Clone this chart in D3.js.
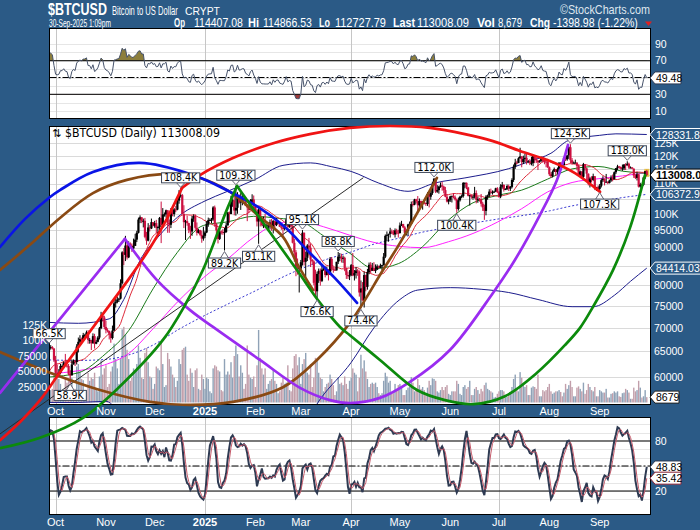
<!DOCTYPE html>
<html>
<head>
<meta charset="utf-8">
<script src="https://cdn.jsdelivr.net/npm/d3@7/dist/d3.min.js"></script>
<style>
  html, body { margin: 0; padding: 0; background: #2b5a86; }
  svg { display: block; }
</style>
</head>
<body>
<svg id="chart" width="700" height="530"></svg>
<script>
// prices in thousands of USD, one bar per calendar day starting at firstBar
const firstBar = '2024-09-27';
const closes = [
  65.8,65.9,65.6,63.3,
  60.8,60.6,60.8,62.1,62.1,62.8,62.2,62.1,60.6,60.3,62.4,63.2,62.9,66.0,67.0,67.6,67.4,68.4,68.4,69.0,67.4,67.4,66.7,68.2,66.6,67.0,67.9,69.9,72.7,72.3,70.2,
  69.5,69.3,68.7,67.8,69.4,75.6,75.9,76.5,76.7,80.5,88.7,88.0,90.6,87.3,91.1,90.6,89.8,90.5,92.3,94.3,98.3,99.0,97.8,97.9,93.1,92.0,95.9,95.6,97.5,96.4,
  97.2,95.8,96.0,98.8,96.6,99.9,99.9,101.2,97.3,96.7,101.2,100.0,101.5,101.4,104.3,106.0,106.1,100.0,97.5,97.8,97.2,95.1,94.7,98.6,99.4,95.8,94.3,95.1,93.7,92.6,93.4,
  94.4,96.9,98.1,98.2,98.3,102.1,96.9,95.0,92.5,94.7,94.6,94.5,94.5,96.5,100.5,100.0,104.1,104.4,101.1,102.0,106.2,103.7,104.0,104.8,104.7,102.6,102.1,101.3,103.7,104.7,102.4,
  100.7,97.7,101.4,97.9,96.6,96.6,96.5,96.5,96.5,97.4,95.8,97.9,96.6,97.5,97.6,96.1,95.8,95.5,96.6,98.3,96.1,96.6,96.3,91.4,88.7,84.7,84.4,84.4,
  86.0,94.3,86.1,87.2,90.6,90.0,86.7,86.2,80.6,78.5,82.9,83.7,81.1,84.0,84.3,82.6,84.1,82.7,86.9,84.2,84.0,83.8,86.1,87.5,87.5,86.9,87.2,84.4,82.6,82.3,82.5,
  85.2,82.5,83.1,83.8,83.5,78.2,79.2,76.3,82.6,79.6,83.4,85.3,83.7,84.5,83.7,84.0,84.9,84.5,85.1,85.2,87.5,93.4,93.7,94.0,94.7,94.6,93.8,95.0,94.3,94.2,
  96.5,96.9,95.9,94.3,94.8,96.8,97.0,103.2,103.0,104.7,104.1,102.8,104.2,103.5,103.7,103.5,103.2,106.5,105.6,106.8,109.7,111.7,107.3,107.8,109.0,109.4,109.0,107.8,105.6,104.0,104.6,
  105.7,105.9,105.4,104.7,101.6,104.4,105.6,105.8,110.3,110.3,108.7,105.9,106.1,105.5,105.6,106.8,104.6,104.9,104.7,103.3,102.1,101.0,105.6,106.0,107.3,107.0,107.1,107.3,108.4,107.1,
  105.7,108.9,109.6,108.0,108.2,109.2,108.3,108.9,111.3,116.0,117.5,117.4,119.1,119.8,117.7,118.8,119.3,117.9,118.0,117.3,117.4,120.0,118.8,118.3,117.6,118.0,119.5,118.1,117.9,117.8,115.8,
  113.3,112.6,114.2,115.1,114.1,115.0,117.5,116.7,116.5,119.3,118.7,120.2,123.3,118.4,117.4,117.5,117.5,116.3,112.9,114.3,112.4,116.9,115.4,113.5,110.1,111.8,111.3,112.6,108.4,108.8,108.2,
  109.3,111.2,111.7,110.7,110.7,110.2,111.1,112.1,111.5,114.0,115.5,116.1,115.9,115.3,115.4,116.8,116.5,117.1,115.7,115.7,115.3,112.8,112.0,113.3,109.0,109.7,109.6,112.2,114.4,113.008
];
const highs = [
  66.5,66.3,66.1,65.7,
  64.1,62.4,61.5,62.5,62.4,63.0,64.5,63.2,62.5,61.3,63.4,63.4,63.3,66.5,67.9,68.4,67.9,68.9,68.7,69.4,69.5,67.8,67.4,68.8,68.7,67.4,68.2,70.2,73.6,72.9,72.7,
  71.6,69.9,69.4,69.0,70.5,76.4,76.9,77.2,76.9,81.5,89.0,89.9,93.4,91.8,91.8,91.5,91.2,92.6,94.0,94.9,98.9,99.6,98.9,98.6,98.8,94.6,97.2,96.6,98.6,97.5,
  97.9,98.2,96.4,99.1,104.0,101.9,100.5,101.4,101.2,98.3,101.9,102.5,101.9,102.6,105.2,107.8,108.4,106.5,102.8,98.2,99.5,97.3,96.4,99.4,99.9,99.9,97.4,95.4,95.2,94.9,96.1,
  94.9,97.8,98.9,98.7,98.8,102.5,102.7,97.2,95.3,95.8,95.0,95.4,95.8,97.3,100.7,100.8,105.9,104.9,106.3,109.3,107.1,106.3,106.8,107.1,105.3,105.5,103.2,103.7,104.8,106.4,106.0,
  102.8,101.5,102.5,101.7,99.0,99.2,100.1,96.9,97.3,98.3,98.5,98.1,97.9,98.8,97.9,97.7,97.0,96.7,96.9,98.7,99.5,96.9,96.5,96.5,92.5,89.3,87.0,85.0,
  86.6,95.1,94.4,88.9,91.0,92.8,91.2,86.8,86.5,84.0,83.5,84.3,84.3,85.2,84.7,85.0,84.8,84.1,87.4,87.4,84.8,84.5,86.1,88.8,88.5,88.3,87.8,87.5,84.6,83.5,83.9,
  85.5,88.5,83.9,84.7,84.2,83.8,81.2,80.8,83.5,82.7,84.2,85.9,86.0,85.8,86.0,85.4,85.4,85.1,85.6,85.3,88.5,93.8,94.7,94.0,95.8,95.3,95.1,95.6,95.5,95.2,
  97.4,97.9,97.0,96.3,95.2,97.0,97.7,104.0,104.2,104.9,104.9,105.8,105.0,104.3,104.1,104.5,103.7,107.1,107.0,107.7,110.7,112.0,111.9,109.5,109.3,110.4,110.7,109.3,108.9,106.3,104.9,
  105.9,105.9,106.8,106.0,105.0,105.3,105.9,106.3,110.5,110.4,110.4,108.9,106.2,106.2,106.0,108.9,107.7,105.6,105.2,106.5,103.9,103.0,106.1,106.3,108.1,108.3,107.7,107.6,108.6,108.8,
  107.5,109.8,110.6,109.7,108.4,109.7,109.7,109.2,111.9,116.8,118.9,118.2,119.5,123.1,119.9,120.1,120.9,120.9,118.5,118.8,119.7,120.2,120.2,119.5,118.4,118.5,119.8,119.8,119.3,118.8,118.9,
  116.1,114.0,114.7,115.7,115.1,115.7,117.6,117.7,117.9,119.3,122.3,120.3,123.7,124.5,119.2,117.9,118.6,117.6,116.8,114.6,114.3,117.4,117.0,115.7,113.6,112.4,112.6,113.5,112.6,108.9,109.4,
  109.9,111.8,112.6,111.8,113.4,110.7,111.3,112.9,113.2,114.3,115.5,116.7,116.3,116.1,116.8,117.0,117.3,118.0,117.5,116.1,115.9,115.4,113.3,114.0,113.4,110.3,109.8,112.4,114.5,114.87
];
const lows = [
  64.8,65.4,65.4,62.9,
  60.2,59.9,59.9,60.5,61.6,61.9,62.1,61.8,60.3,58.9,60.4,62.4,62.1,62.4,64.8,66.7,66.7,67.1,68.0,68.1,66.6,66.6,65.3,66.6,65.6,66.5,66.9,67.5,69.7,71.4,69.7,
  68.8,69.0,67.5,66.8,67.5,69.3,74.6,75.6,75.9,76.5,80.2,85.2,86.3,86.7,87.1,90.1,88.8,89.4,90.9,91.6,94.1,97.2,97.2,95.9,92.7,90.8,91.8,94.7,95.4,96.2,
  95.8,94.2,93.6,94.7,91.3,95.9,99.2,98.9,94.3,94.3,95.7,99.3,99.2,100.6,101.2,103.3,105.3,100.0,95.7,92.2,96.4,94.2,92.5,93.4,97.6,95.2,93.5,94.1,93.3,91.4,92.0,
  92.8,94.2,96.1,97.8,97.2,97.9,96.1,92.5,91.2,92.2,93.8,93.7,89.2,94.3,96.5,97.3,100.0,102.3,99.6,99.5,100.1,103.3,101.3,102.8,104.1,102.5,97.8,100.3,101.3,103.3,101.6,
  100.3,96.2,91.1,96.2,96.2,95.7,95.7,95.7,94.7,95.3,94.9,94.1,95.2,96.3,97.1,96.0,95.2,93.4,95.0,96.4,94.9,95.8,95.2,91.2,86.1,82.3,82.7,78.2,
  83.7,85.1,85.1,82.0,86.3,87.8,84.7,85.3,80.0,77.5,76.6,80.6,79.9,80.8,83.7,82.0,82.5,81.2,82.6,83.7,83.2,83.7,83.8,85.5,86.3,85.9,85.8,83.6,81.6,81.6,81.3,
  82.4,82.3,81.2,81.7,82.4,77.2,74.4,76.2,74.6,78.5,78.9,82.8,83.1,83.7,83.6,83.1,83.9,84.3,84.4,83.9,85.1,87.1,91.8,91.7,92.9,93.9,93.6,92.9,93.8,92.9,
  94.1,96.3,95.7,94.1,93.5,93.5,95.8,97.0,102.4,102.8,103.4,100.8,101.5,102.6,101.4,103.1,102.6,102.6,102.1,104.6,106.2,109.3,106.8,106.9,106.6,108.6,107.6,106.7,105.4,103.7,103.1,
  103.9,103.7,105.0,104.3,100.4,101.1,104.0,105.1,105.3,108.4,108.1,105.7,102.7,104.9,104.6,105.0,103.4,103.6,104.0,102.4,101.0,98.2,99.6,104.6,105.5,106.6,106.3,106.9,107.2,106.8,
  105.3,105.1,108.3,107.3,107.8,107.8,107.5,107.5,108.4,110.6,115.2,116.9,117.3,118.9,115.8,117.0,117.5,116.8,117.3,116.6,116.5,116.2,117.3,117.4,114.8,117.5,117.9,117.5,116.9,115.8,115.5,
  112.7,112.0,112.2,114.1,112.7,113.4,114.3,115.9,116.3,116.5,118.1,118.2,118.9,117.2,116.8,117.2,117.3,114.7,112.7,112.4,112.0,111.7,114.6,110.8,109.4,108.7,110.4,110.9,107.8,107.5,108.1,
  107.3,108.7,110.6,109.4,110.2,109.8,110.1,110.6,110.8,111.6,113.4,114.8,115.3,114.9,114.5,114.8,114.8,116.4,115.2,115.5,115.2,112.0,111.6,111.1,108.7,108.6,109.1,109.3,111.6,112.73
];
// volume in thousands
const volumes = [
  38,20,22,45,
  55,42,38,30,16,18,40,32,36,48,40,20,22,58,62,50,38,36,18,20,48,35,40,38,48,22,18,42,68,45,55,
  60,25,30,50,58,95,70,55,30,70,118,122,110,85,70,35,40,55,50,62,92,72,40,38,80,88,65,42,40,22,
  30,58,55,52,98,62,25,28,80,70,58,45,40,25,35,70,62,85,88,90,45,35,55,48,25,52,55,22,20,45,38,
  22,40,38,18,15,55,60,58,52,50,20,18,70,45,50,45,65,40,75,92,78,42,60,48,22,30,92,45,40,38,42,
  25,60,117,72,55,45,55,22,30,35,38,52,35,30,15,18,32,42,30,32,60,20,18,55,75,78,60,73,
  30,62,70,80,48,45,62,25,40,72,69,48,40,38,18,25,30,32,45,38,28,12,18,40,30,32,28,42,30,22,35,
  40,55,48,45,18,40,77,55,68,50,38,25,30,32,30,32,25,15,12,15,35,48,42,32,35,14,15,30,22,28,
  30,25,12,12,20,24,26,41,32,18,20,38,28,22,25,20,12,24,35,28,39,38,35,18,16,20,25,20,25,28,14,
  12,18,18,18,35,30,14,12,25,28,22,25,35,12,12,22,25,20,14,22,18,28,32,22,20,18,16,8,9,14,
  18,20,20,18,8,9,14,14,25,38,45,20,18,49,40,28,25,28,12,12,24,26,25,22,45,10,10,20,18,20,25,
  30,18,14,16,18,18,20,17,10,16,30,22,28,35,25,10,10,24,26,22,18,32,14,20,30,25,20,18,25,10,10,
  20,18,16,16,22,8,8,14,15,18,16,18,10,9,15,16,22,20,16,6,6,24,18,20,35,24,8,10,20,8.679
];
// the 19 days before the first bar, only used to seed RSI, stochastics and SMA(20)
const leadCloses = [54.9,57.0,57.6,57.3,58.1,60.5,60.0,59.2,58.2,60.3,61.7,62.9,63.2,63.3,63.6,63.3,64.3,63.2,65.2];
const leadHighs  = [55.3,58.1,58.0,57.9,58.6,60.6,60.6,60.4,59.2,61.3,61.8,63.8,64.1,63.5,63.9,64.7,64.5,64.8,65.8];
const leadLows   = [53.7,54.6,56.4,55.6,57.0,57.6,59.5,58.8,57.5,57.6,59.2,61.6,62.4,62.8,62.4,62.7,62.7,62.9,62.7];

// overlays, [date, value in K]
const sma50 = [["2024-09-27",60.0],["2024-10-15",60.8],["2024-11-01",64.6],["2024-11-15",69.4],["2024-11-30",79.1],["2024-12-15",88.7],["2024-12-31",96.5],["2025-01-15",97.6],["2025-01-31",99.3],["2025-02-15",98.7],["2025-02-28",97.9],["2025-03-15",93.4],["2025-03-31",88.5],["2025-04-15",84.3],["2025-04-30",85.6],["2025-05-15",90.3],["2025-05-31",98.2],["2025-06-15",103.6],["2025-06-30",106.0],["2025-07-15",107.8],["2025-07-31",111.6],["2025-08-15",115.2],["2025-08-31",116.1],["2025-09-15",114.4],["2025-09-30",113.6]];
const sma100 = [["2024-09-27",60.6],["2024-10-15",61.2],["2024-10-31",62.3],["2024-11-15",64.6],["2024-11-30",69.8],["2024-12-15",75.9],["2024-12-31",81.9],["2025-01-15",86.9],["2025-01-31",93.0],["2025-02-15",97.1],["2025-02-28",97.8],["2025-03-15",96.1],["2025-03-31",93.6],["2025-04-15",91.5],["2025-04-30",90.4],["2025-05-15",90.0],["2025-05-31",91.7],["2025-06-15",94.1],["2025-06-30",97.5],["2025-07-15",101.7],["2025-07-31",107.2],["2025-08-15",110.4],["2025-08-31",111.7],["2025-09-15",112.7],["2025-09-30",113.9]];
const bbUpper = [["2024-09-27",71.2],["2024-10-15",71.0],["2024-11-03",72.0],["2024-11-12",76.5],["2024-11-22",86.5],["2024-12-03",93.0],["2024-12-15",99.0],["2025-01-01",104.2],["2025-01-14",107.2],["2025-02-01",111.5],["2025-02-18",116.5],["2025-03-07",117.4],["2025-03-20",116.0],["2025-04-01",114.3],["2025-04-18",110.2],["2025-05-06",107.4],["2025-05-23",110.3],["2025-06-10",112.0],["2025-07-07",115.3],["2025-07-20",118.0],["2025-08-02",121.0],["2025-08-13",126.0],["2025-09-01",128.0],["2025-09-11",128.6],["2025-09-30",128.33]];
const bbMiddle = [["2024-09-27",63.3],["2024-10-15",63.2],["2024-11-01",63.4],["2024-11-15",64.3],["2024-12-01",66.5],["2024-12-15",69.5],["2025-01-01",72.8],["2025-01-16",75.6],["2025-02-01",78.6],["2025-02-15",81.5],["2025-03-01",84.2],["2025-03-15",86.5],["2025-04-01",88.8],["2025-04-15",91.0],["2025-05-01",92.8],["2025-05-15",94.5],["2025-06-01",96.0],["2025-06-15",97.2],["2025-07-01",98.5],["2025-07-15",99.5],["2025-08-01",101.0],["2025-08-15",102.6],["2025-09-01",104.1],["2025-09-15",105.3],["2025-09-30",106.37]];
const bbLower = [["2024-09-27",55.4],["2024-10-15",55.4],["2024-11-01",55.6],["2024-11-12",52.0],["2024-12-01",40.0],["2025-01-01",41.4],["2025-02-01",45.7],["2025-03-01",51.0],["2025-03-13",56.0],["2025-04-01",62.8],["2025-04-15",70.0],["2025-05-01",76.5],["2025-05-12",78.8],["2025-06-01",79.4],["2025-06-20",79.0],["2025-07-07",78.2],["2025-07-25",76.5],["2025-08-15",74.8],["2025-08-28",74.8],["2025-09-10",77.5],["2025-09-20",81.0],["2025-09-30",84.41]];

// hand-drawn arcs, [days after first bar, price K]
const arcBlue = [[-30.2,90.2],[-14.8,98.5],[0.6,105.5],[6.7,107.8],[27.0,114.1],[55.9,117.4],[88.6,113.0],[111.4,107.2],[129.8,101.9],[145.2,96.0],[160.6,88.5],[176.0,81.8],[189.6,75.7]];
const arcBrownTop = [[-30.2,83.9],[-11.8,90.8],[6.7,98.8],[27.0,106.8],[47.9,111.3],[74.4,113.4],[92.9,112.0],[111.4,107.2],[129.8,99.1],[144.0,93.1],[153.2,85.2],[162.5,78.8]];
const arcBrownLow = [[-30.2,64.9],[0.6,60.8],[31.3,57.6],[62.1,55.5],[82.4,55.0],[113.2,55.5],[144.0,58.1],[164.9,63.3],[185.2,71.1],[205.6,83.9],[216.0,91.3],[238.8,112.0]];
const legPurple = [[-30.2,57.1],[46.7,92.5]];
const arcPurple = [[46.7,92.5],[66.4,81.3],[86.8,74.0],[100.9,70.2],[129.8,63.3],[154.5,58.0],[172.9,55.8],[185.2,55.3],[203.7,56.2],[222.2,59.1],[246.8,65.3],[273.3,78.1],[286.8,86.6],[302.2,99.7],[312.7,111.3],[319.5,124.2]];
const legRed = [[-30.2,49.2],[-17.9,52.1],[-5.6,55.8],[6.7,60.9],[31.3,72.2],[48.6,81.3],[62.1,89.9],[71.4,97.5],[81.8,108.5]];
const arcRed = [[81.8,108.5],[92.9,113.0],[113.2,119.2],[136.0,124.5],[160.6,128.5],[185.2,131.0],[209.9,131.8],[234.5,131.0],[256.0,128.5],[273.3,125.7],[289.9,121.9],[308.4,118.1],[323.8,113.7],[339.2,107.2]];
const lineBlack = [[-30.2,50.2],[193.3,112.0]];
const legGreen = [[-30.2,48.0],[-5.6,49.6],[20.9,52.8],[43.7,58.3],[70.1,67.4],[83.7,75.2],[94.7,83.9],[104.0,94.5],[110.1,102.2],[115.7,109.2]];
const arcGreen = [[115.7,109.2],[134.1,95.7],[152.6,83.9],[166.8,75.7],[179.1,70.2],[185.2,68.4],[203.7,63.3],[226.5,57.6],[243.7,55.8],[261.0,55.1],[280.7,56.5],[300.4,60.8],[317.6,66.3],[326.9,70.0],[334.8,74.7],[347.2,83.9],[357.6,95.7],[366.9,113.0]];

// swing highs / lows that carry a value label
const swingNotes = [["2024-09-27","high"],["2024-10-10","low"],["2024-12-17","high"],["2025-01-13","low"],["2025-01-20","high"],["2025-02-03","low"],["2025-03-02","high"],["2025-03-11","low"],["2025-03-24","high"],["2025-04-07","low"],["2025-05-22","high"],["2025-06-05","low"],["2025-08-14","high"],["2025-09-01","low"],["2025-09-18","high"]];

const monthStarts = ["2024-10-01","2024-11-01","2024-12-01","2025-01-01","2025-02-01","2025-03-01","2025-04-01","2025-05-01","2025-06-01","2025-07-01","2025-08-01","2025-09-01"];
const monthNames = ["Oct","Nov","Dec","2025","Feb","Mar","Apr","May","Jun","Jul","Aug","Sep"];
const quarterLines = ["2024-10-01","2025-01-01","2025-04-01","2025-07-01"];
const priceGrid = [60,65,70,75,80,85,90,95,100,105,110,115,120,125];
// 85000 and 105K sit fully under the value tags, so they get no label
const priceLabels = [60,65,70,75,80,90,95,100,110,115,120,125];
const volumeTicks = [25,50,75,100,125];
const rsiLabels = [10,30,70,90];
const stochLabels = [20,80];

const quote = [["Op","114407.08"],["Hi","114866.53"],["Lo","112727.79"],["Last","113008.09"],["Vol","8,679"],["Chg","-1398.98 (-1.22%)"]];
const overlayTags = [["128331.8",128.3318,"band"],["113008.09",113.00809,"price"],["106372.9",106.3729,"band"],["84414.03",84.41403,"band"]];
const volumeTag = ["8679", 8.679];
const rsiTag = ["49.48", 49.48];
const stochTagsRead = [["48.83", 48.83, "#2e3a52"], ["35.42", 35.42, "#8b2232"]];

// ---------------------------------------------------------------
const BG = '#2b5a86';
const DAY = 864e5;
const t0 = Date.parse(firstBar);
const dayDate = (d) => new Date(t0 + d * DAY);
const parse = (s) => new Date(Date.parse(s));

const n = closes.length;
const bars = d3.range(n).map((i) => ({
    date: dayDate(i),
    o: i === 0 ? leadCloses[leadCloses.length - 1] : closes[i - 1],
    h: highs[i], l: lows[i], c: closes[i], v: volumes[i]
}));

const L = 49.5, R = 650;
const pRsi = {t: 28, b: 118}, pMain = {t: 126, b: 404}, pSto = {t: 417, b: 514};

const x = d3.scaleUtc().domain([new Date(t0), parse('2025-10-01')]).range([49.1, 648.4]);
const yP = d3.scaleLog().domain([55.13, 131.8]).range([404, 126]);
const yV = d3.scaleLinear().domain([0, 125]).range([402.5, 325]);
const yR = d3.scaleLinear().domain([0, 100]).range([119.5, 35.5]);
const yS = d3.scaleLinear().domain([0, 100]).range([507.7, 424.3]);

// indicators
const allC = leadCloses.concat(closes);
const allH = leadHighs.concat(highs);
const allLo = leadLows.concat(lows);
const off = leadCloses.length;

function rsiWilder(c, p) {
    const out = c.map(() => null);
    let g = 0, lo = 0;
    for (let i = 1; i <= p; i++) {
        const d = c[i] - c[i - 1];
        if (d > 0) g += d; else lo -= d;
    }
    g /= p; lo /= p;
    out[p] = 100 - 100 / (1 + g / lo);
    for (let i = p + 1; i < c.length; i++) {
        const d = c[i] - c[i - 1];
        g = (g * (p - 1) + Math.max(d, 0)) / p;
        lo = (lo * (p - 1) + Math.max(-d, 0)) / p;
        out[i] = lo === 0 ? 100 : 100 - 100 / (1 + g / lo);
    }
    return out;
}
const rsiAll = rsiWilder(allC, 14);
const fastK = allC.map((c, i) => {
    if (i < 13) return null;
    const hh = d3.max(allH.slice(i - 13, i + 1));
    const ll = d3.min(allLo.slice(i - 13, i + 1));
    return 100 * (c - ll) / (hh - ll);
});
const avg3 = (a, i) => (i < 2 || a[i] == null || a[i - 1] == null || a[i - 2] == null) ? null : (a[i] + a[i - 1] + a[i - 2]) / 3;
const slowK = fastK.map((_, i) => avg3(fastK, i));
const slowD = slowK.map((_, i) => avg3(slowK, i));
const sma20All = allC.map((_, i) => i < 19 ? null : d3.mean(allC.slice(i - 19, i + 1)));

const series = (arr) => bars.map((b, i) => ({date: b.date, v: arr[i + off]}));
const rsi = series(rsiAll), stK = series(slowK), stD = series(slowD), sma20 = series(sma20All);

// ---------------------------------------------------------------
const svg = d3.select('#chart');
svg.append('rect').attr('width', 700).attr('height', 530).attr('fill', BG);

const defs = svg.append('defs');
const clip = (id, y0, y1) => defs.append('clipPath').attr('id', id)
    .append('rect').attr('x', L).attr('y', y0).attr('width', R - L).attr('height', y1 - y0);
clip('c-rsi', pRsi.t, pRsi.b);
clip('c-main', pMain.t, pMain.b);
clip('c-sto', pSto.t, pSto.b);
clip('c-rsi-hi', pRsi.t, yR(70));
clip('c-rsi-lo', yR(30), pRsi.b);

[pRsi, pMain, pSto].forEach((p) => {
    svg.append('rect').attr('x', L).attr('y', p.t).attr('width', R - L).attr('height', p.b - p.t).attr('fill', '#ffffff');
});

const hLine = (g, y, stroke, dash, w) => g.append('line')
    .attr('x1', L).attr('x2', R).attr('y1', y).attr('y2', y)
    .attr('stroke', stroke).attr('stroke-width', w || 1).attr('stroke-dasharray', dash || null);

// grids
const grid = svg.append('g').attr('shape-rendering', 'crispEdges');
d3.range(10, 100, 10).forEach((v) => hLine(grid, Math.round(yR(v)) + 0.5, '#e6e6e6'));
d3.range(10, 101, 10).forEach((v) => hLine(grid, Math.round(yS(v)) + 0.5, '#e6e6e6'));
priceGrid.forEach((v) => hLine(grid, Math.round(yP(v)) + 0.5, '#dadada'));
quarterLines.forEach((s) => {
    const xx = Math.round(x(parse(s))) + 0.5;
    [pRsi, pMain, pSto].forEach((p) => grid.append('line')
        .attr('x1', xx).attr('x2', xx).attr('y1', p.t).attr('y2', p.b).attr('stroke', '#c6c6c6'));
});

// RSI panel
const gR = svg.append('g').attr('clip-path', 'url(#c-rsi)');
const rsiArea = (base) => d3.area().defined((d) => d.v != null)
    .x((d) => x(d.date)).y0(yR(base)).y1((d) => yR(d.v));
gR.append('path').datum(rsi).attr('d', rsiArea(70)).attr('fill', '#8c7e3c').attr('clip-path', 'url(#c-rsi-hi)');
gR.append('path').datum(rsi).attr('d', rsiArea(30)).attr('fill', '#9c3a3a').attr('clip-path', 'url(#c-rsi-lo)');
hLine(gR, yR(70), '#000');
hLine(gR, yR(30), '#000');
hLine(gR, yR(50), '#000', '7,2,2,2');
gR.append('path').datum(rsi)
    .attr('d', d3.line().defined((d) => d.v != null).x((d) => x(d.date)).y((d) => yR(d.v)))
    .attr('fill', 'none').attr('stroke', '#46526a').attr('stroke-width', 1);

// main panel
const gM = svg.append('g').attr('clip-path', 'url(#c-main)');
gM.selectAll('rect.vol').data(bars).join('rect').attr('class', 'vol')
    .attr('x', (d) => x(d.date) - 0.7).attr('width', 1.4)
    .attr('y', (d) => yV(d.v)).attr('height', (d) => yV(0) - yV(d.v))
    .attr('fill', (d) => d.c >= d.o ? '#8fa2b7' : '#c29fab');

const sampled = (arr) => arr.map(([s, v]) => ({date: parse(s), v}));
const sLine = d3.line().x((d) => x(d.date)).y((d) => yP(d.v)).curve(d3.curveMonotoneX);
const overlay = (data, stroke, w, dash) => gM.append('path').datum(data).attr('d', sLine)
    .attr('fill', 'none').attr('stroke', stroke).attr('stroke-width', w).attr('stroke-dasharray', dash || null);
overlay(sampled(bbLower), '#1c1c8c', 1);
overlay(sampled(bbUpper), '#1c1c8c', 1);
overlay(sampled(bbMiddle), '#3a3ad0', 1, '2,2');
overlay(sampled(sma100), '#ff22ff', 1);
overlay(sampled(sma50), '#1a7a1a', 1);
gM.append('path').datum(sma20)
    .attr('d', d3.line().defined((d) => d.v != null).x((d) => x(d.date)).y((d) => yP(d.v)))
    .attr('fill', 'none').attr('stroke', '#dd2a3a').attr('stroke-width', 1);

const last = bars[n - 1];
gM.append('rect').attr('x', x(last.date) - 2.5).attr('width', 5)
    .attr('y', yP(last.h) - 1).attr('height', yP(last.l) - yP(last.h) + 2).attr('fill', '#e6c44a');

const barColor = (d) => d.c >= d.o ? '#000000' : '#cc1040';
const gC = gM.append('g');
gC.selectAll('line').data(bars).join('line')
    .attr('x1', (d) => x(d.date)).attr('x2', (d) => x(d.date))
    .attr('y1', (d) => yP(Math.max(d.h, d.o, d.c))).attr('y2', (d) => yP(Math.min(d.l, d.o, d.c)))
    .attr('stroke', barColor).attr('stroke-width', 1);
gC.selectAll('rect').data(bars).join('rect')
    .attr('x', (d) => x(d.date) - 1.1).attr('width', 2.2)
    .attr('y', (d) => yP(Math.max(d.o, d.c)))
    .attr('height', (d) => Math.max(1, yP(Math.min(d.o, d.c)) - yP(Math.max(d.o, d.c))))
    .attr('fill', barColor);

// stochastics
const gS = svg.append('g').attr('clip-path', 'url(#c-sto)');
hLine(gS, yS(80), '#000');
hLine(gS, yS(20), '#000');
hLine(gS, yS(50), '#000', '7,2,2,2');
const stLine = d3.line().defined((d) => d.v != null).x((d) => x(d.date)).y((d) => yS(d.v));
gS.append('path').datum(stK).attr('d', stLine).attr('fill', 'none').attr('stroke', '#2e3a52').attr('stroke-width', 2);
gS.append('path').datum(stD).attr('d', stLine).attr('fill', 'none').attr('stroke', '#c45a6a').attr('stroke-width', 1);

// panel borders
[pRsi, pMain, pSto].forEach((p) => {
    svg.append('rect').attr('x', L).attr('y', p.t).attr('width', R - L).attr('height', p.b - p.t)
        .attr('fill', 'none').attr('stroke', '#000').attr('stroke-width', 1).attr('shape-rendering', 'crispEdges');
});

// arcs, drawn freely over the whole picture
const gA = svg.append('g');
const arcPath = (pts, stroke, w, curve) => gA.append('path')
    .datum(pts)
    .attr('d', d3.line().x((d) => x(dayDate(d[0]))).y((d) => yP(d[1])).curve(curve || d3.curveCatmullRom.alpha(0.5)))
    .attr('fill', 'none').attr('stroke', stroke).attr('stroke-width', w).attr('stroke-linecap', 'round');
arcPath(lineBlack, '#2a2a2a', 1, d3.curveLinear);
arcPath(arcBrownLow, '#8a4a14', 2.7);
arcPath(arcBrownTop, '#8a4a14', 2.7);
arcPath(arcBlue, '#0a14e6', 2.7);
arcPath(legPurple, '#9a2cf0', 2.7, d3.curveLinear);
arcPath(arcPurple, '#9a2cf0', 2.7);
arcPath(legGreen, '#0c8a0c', 2.7);
arcPath(arcGreen, '#0c8a0c', 2.7);
arcPath(legRed, '#f01414', 2.7);
arcPath(arcRed, '#f01414', 2.7);

// swing labels
const NARROW = '"Liberation Sans Narrow","Arial Narrow","DejaVu Sans Condensed","Liberation Sans",sans-serif';
const SANS = '"Liberation Sans",Arial,sans-serif';
const gN = svg.append('g');
swingNotes.forEach(([s, kind]) => {
    const b = bars.find((d) => +d.date === Date.parse(s));
    const v = kind === 'high' ? b.h : b.l;
    const cx = x(b.date), py = yP(v);
    const cy = kind === 'high' ? py - 10.5 : py + 12.5;
    const g = gN.append('g');
    const t = g.append('text').attr('x', cx).attr('y', cy + 3.6).attr('text-anchor', 'middle')
        .attr('font-family', NARROW).attr('font-size', 10.5).attr('fill', '#000').text(v.toFixed(1) + 'K');
    const w = t.node().getComputedTextLength() + 5;
    const edge = kind === 'high' ? cy + 5 : cy - 5;
    const tip = kind === 'high' ? py - 1 : py + 1;
    g.insert('path', 'text').attr('d', `M${cx - 4},${edge} L${cx},${tip} L${cx + 4},${edge}`)
        .attr('fill', '#fff').attr('stroke', '#667').attr('stroke-width', 1);
    g.insert('rect', 'text').attr('x', cx - w / 2).attr('y', cy - 5).attr('width', w).attr('height', 10)
        .attr('fill', '#fff').attr('stroke', '#3c4658').attr('stroke-width', 1);
});

// axis labels
const gT = svg.append('g').attr('font-family', SANS).attr('fill', '#fff');
priceLabels.forEach((v) => gT.append('text').attr('x', 654).attr('y', yP(v) + 3.7)
    .attr('font-size', 10.5).text(v >= 100 ? v + 'K' : String(v * 1000)));
rsiLabels.forEach((v) => gT.append('text').attr('x', 655).attr('y', yR(v) + 3.7).attr('font-size', 10.5).text(v));
stochLabels.forEach((v) => gT.append('text').attr('x', 655).attr('y', yS(v) + 3.7).attr('font-size', 10.5).text(v));
volumeTicks.forEach((v) => gT.append('text').attr('x', 47).attr('y', yV(v) + 3.7).attr('text-anchor', 'end')
    .attr('font-size', 10.5).text(v >= 100 ? v + 'K' : String(v * 1000)));
monthStarts.forEach((s, i) => {
    [415, 526].forEach((yy) => gT.append('text').attr('x', x(parse(s))).attr('y', yy)
        .attr('text-anchor', 'middle').attr('font-size', 11)
        .attr('font-weight', monthNames[i] === '2025' ? 'bold' : 'normal').text(monthNames[i]));
});

// value tags at the right edge
function tag(yy, text, o) {
    const h = 12, x0 = R, w = o.w || 62;
    svg.append('path')
        .attr('d', `M${x0},${yy} L${x0 + 5},${yy - h / 2} L${x0 + w},${yy - h / 2} L${x0 + w},${yy + h / 2} L${x0 + 5},${yy + h / 2} Z`)
        .attr('fill', o.fill).attr('stroke', o.stroke).attr('stroke-width', 1);
    svg.append('text').attr('x', x0 + 6).attr('y', yy + 4).attr('font-family', SANS)
        .attr('font-size', o.size || 10.5).attr('font-weight', o.bold ? 'bold' : 'normal')
        .attr('fill', o.color).text(text);
}
overlayTags.forEach(([txt, v, kind]) => {
    if (kind === 'price') tag(yP(v), txt, {fill: '#fff', stroke: '#000', color: '#000', bold: true, size: 11});
    else tag(yP(v), txt, {fill: BG, stroke: '#fff', color: '#fff'});
});
tag(yV(volumeTag[1]), volumeTag[0], {fill: '#fff', stroke: '#222', color: '#000', w: 29});
tag(yR(rsiTag[1]), rsiTag[0], {fill: '#fff', stroke: '#2e3a52', color: '#000', w: 31});
stochTagsRead.forEach(([txt, v, st]) => tag(yS(v), txt, {fill: '#fff', stroke: st, color: '#000', w: 31}));

// header, squeezed horizontally to the condensed look of the original
const gH = svg.append('g').attr('fill', '#fff');
const htext = (t, x0, y0, size, w, bold, fam, fill) => {
    const el = gH.append('text').attr('x', 0).attr('y', 0)
        .attr('font-family', fam || SANS).attr('font-size', size)
        .attr('font-weight', bold ? 'bold' : 'normal').attr('fill', fill || '#fff').text(t);
    const k = w / el.node().getComputedTextLength();
    el.attr('transform', `translate(${x0},${y0}) scale(${k},1)`);
};
htext('$BTCUSD', 48, 15, 16, 59, true);
htext('Bitcoin to US Dollar', 112, 15, 12.5, 66);
htext('CRYPT', 185, 15, 10.5, 35);
htext('30-Sep-2025 1:09pm', 49, 26.5, 11.5, 62);
const qx = [[174, 11, 194, 49], [248, 11, 263, 49], [319, 11, 335, 51], [393, 22, 417, 52], [477, 18, 498, 24], [530, 20, 553, 85]];
quote.forEach(([k, v], i) => {
    htext(k, qx[i][0], 26.5, 12, qx[i][1], true);
    htext(v, qx[i][2], 26.5, 12, qx[i][3]);
});
gH.append('path').attr('d', 'M645,21.5 L652,21.5 L648.5,26 Z').attr('fill', '#e02020');
htext('\u00a9StockCharts.com', 560, 14, 12, 90, false, SANS, '#dfe6ee');

// main panel title
svg.append('text').attr('x', 52).attr('y', 136.5).attr('font-family', '"DejaVu Sans",sans-serif')
    .attr('font-size', 11).attr('fill', '#000').text('\u21c5');
svg.append('text').attr('x', 65).attr('y', 136.5).attr('font-family', '"DejaVu Sans",sans-serif')
    .attr('font-size', 11.5).attr('fill', '#000').attr('textLength', 155).attr('lengthAdjust', 'spacingAndGlyphs')
    .text('$BTCUSD (Daily) ' + quote[3][1]);
</script>
</body>
</html>
